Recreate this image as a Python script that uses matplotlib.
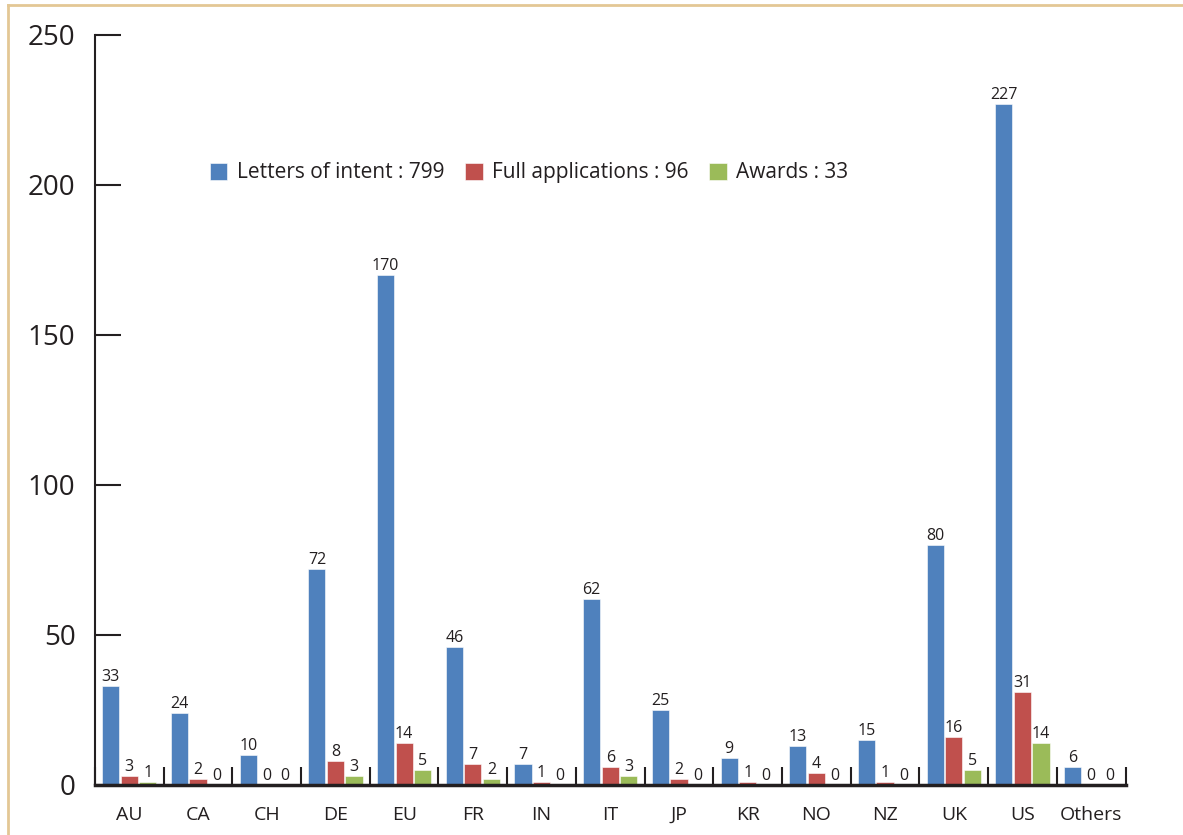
import matplotlib
matplotlib.use("Agg")
import matplotlib.pyplot as plt
from matplotlib.lines import Line2D
import numpy as np

countries = ["AU", "CA", "CH", "DE", "EU", "FR", "IN", "IT", "JP", "KR", "NO", "NZ", "UK", "US", "Others"]
letters = [33, 24, 10, 72, 170, 46, 7, 62, 25, 9, 13, 15, 80, 227, 6]
full_apps = [3, 2, 0, 8, 14, 7, 1, 6, 2, 1, 4, 1, 16, 31, 0]
awards = [1, 0, 0, 3, 5, 2, 0, 3, 0, 0, 0, 0, 5, 14, 0]
series_names = ["Letters of intent : 799", "Full applications : 96", "Awards : 33"]

plt.rcParams['font.family'] = ['Open Sans', 'DejaVu Sans']
ink = "#231F20"
colors = ["#4F81BD", "#C0504D", "#9BBB59"]

fig = plt.figure(figsize=(11.83, 8.35), dpi=100)
ax = fig.add_axes([0.0803, 0.0599, 0.8711, 0.8982])

x = np.arange(len(countries))
width = 0.25
offsets = [-0.27, 0.0, 0.27]
for vals, off, col, name in zip([letters, full_apps, awards], offsets, colors, series_names):
    bars = ax.bar(x + off, vals, width, color=col, edgecolor="white", linewidth=0.4, label=name)
    ax.bar_label(bars, padding=1, fontsize=11.5, color=ink)

ax.set_xlim(-0.5, len(countries) - 0.5)
ax.set_ylim(0, 250)
ax.set_yticks([0, 50, 100, 150, 200, 250])
ax.set_xticks(x)
ax.set_xticklabels(countries)
ax.set_xticks(np.arange(len(countries) + 1) - 0.5, minor=True)

ax.spines['top'].set_visible(False)
ax.spines['right'].set_visible(False)
ax.spines['left'].set_linewidth(1.5)
ax.spines['left'].set_color(ink)
ax.spines['bottom'].set_linewidth(2.5)
ax.spines['bottom'].set_color(ink)

ax.tick_params(axis='y', direction='in', length=19, width=1.5, color=ink, labelsize=20, pad=14, labelcolor=ink)
ax.tick_params(axis='x', which='major', length=0, labelsize=14, pad=15, labelcolor=ink)
ax.tick_params(axis='x', which='minor', direction='in', length=13, width=1.5, color=ink)

ax.legend(loc='center left', bbox_to_anchor=(0.093, 0.816), ncol=3, frameon=False,
          fontsize=15, handlelength=0.85, handleheight=0.85, handletextpad=0.45,
          columnspacing=1.0, labelcolor=ink)

# beige frame on the left and top
frame_col = "#E3C795"
fig.add_artist(Line2D([0.007, 0.007], [0, 0.994], color=frame_col, linewidth=2, transform=fig.transFigure))
fig.add_artist(Line2D([0.007, 1.0], [0.994, 0.994], color=frame_col, linewidth=2, transform=fig.transFigure))

fig.savefig("out.png", dpi=100)
